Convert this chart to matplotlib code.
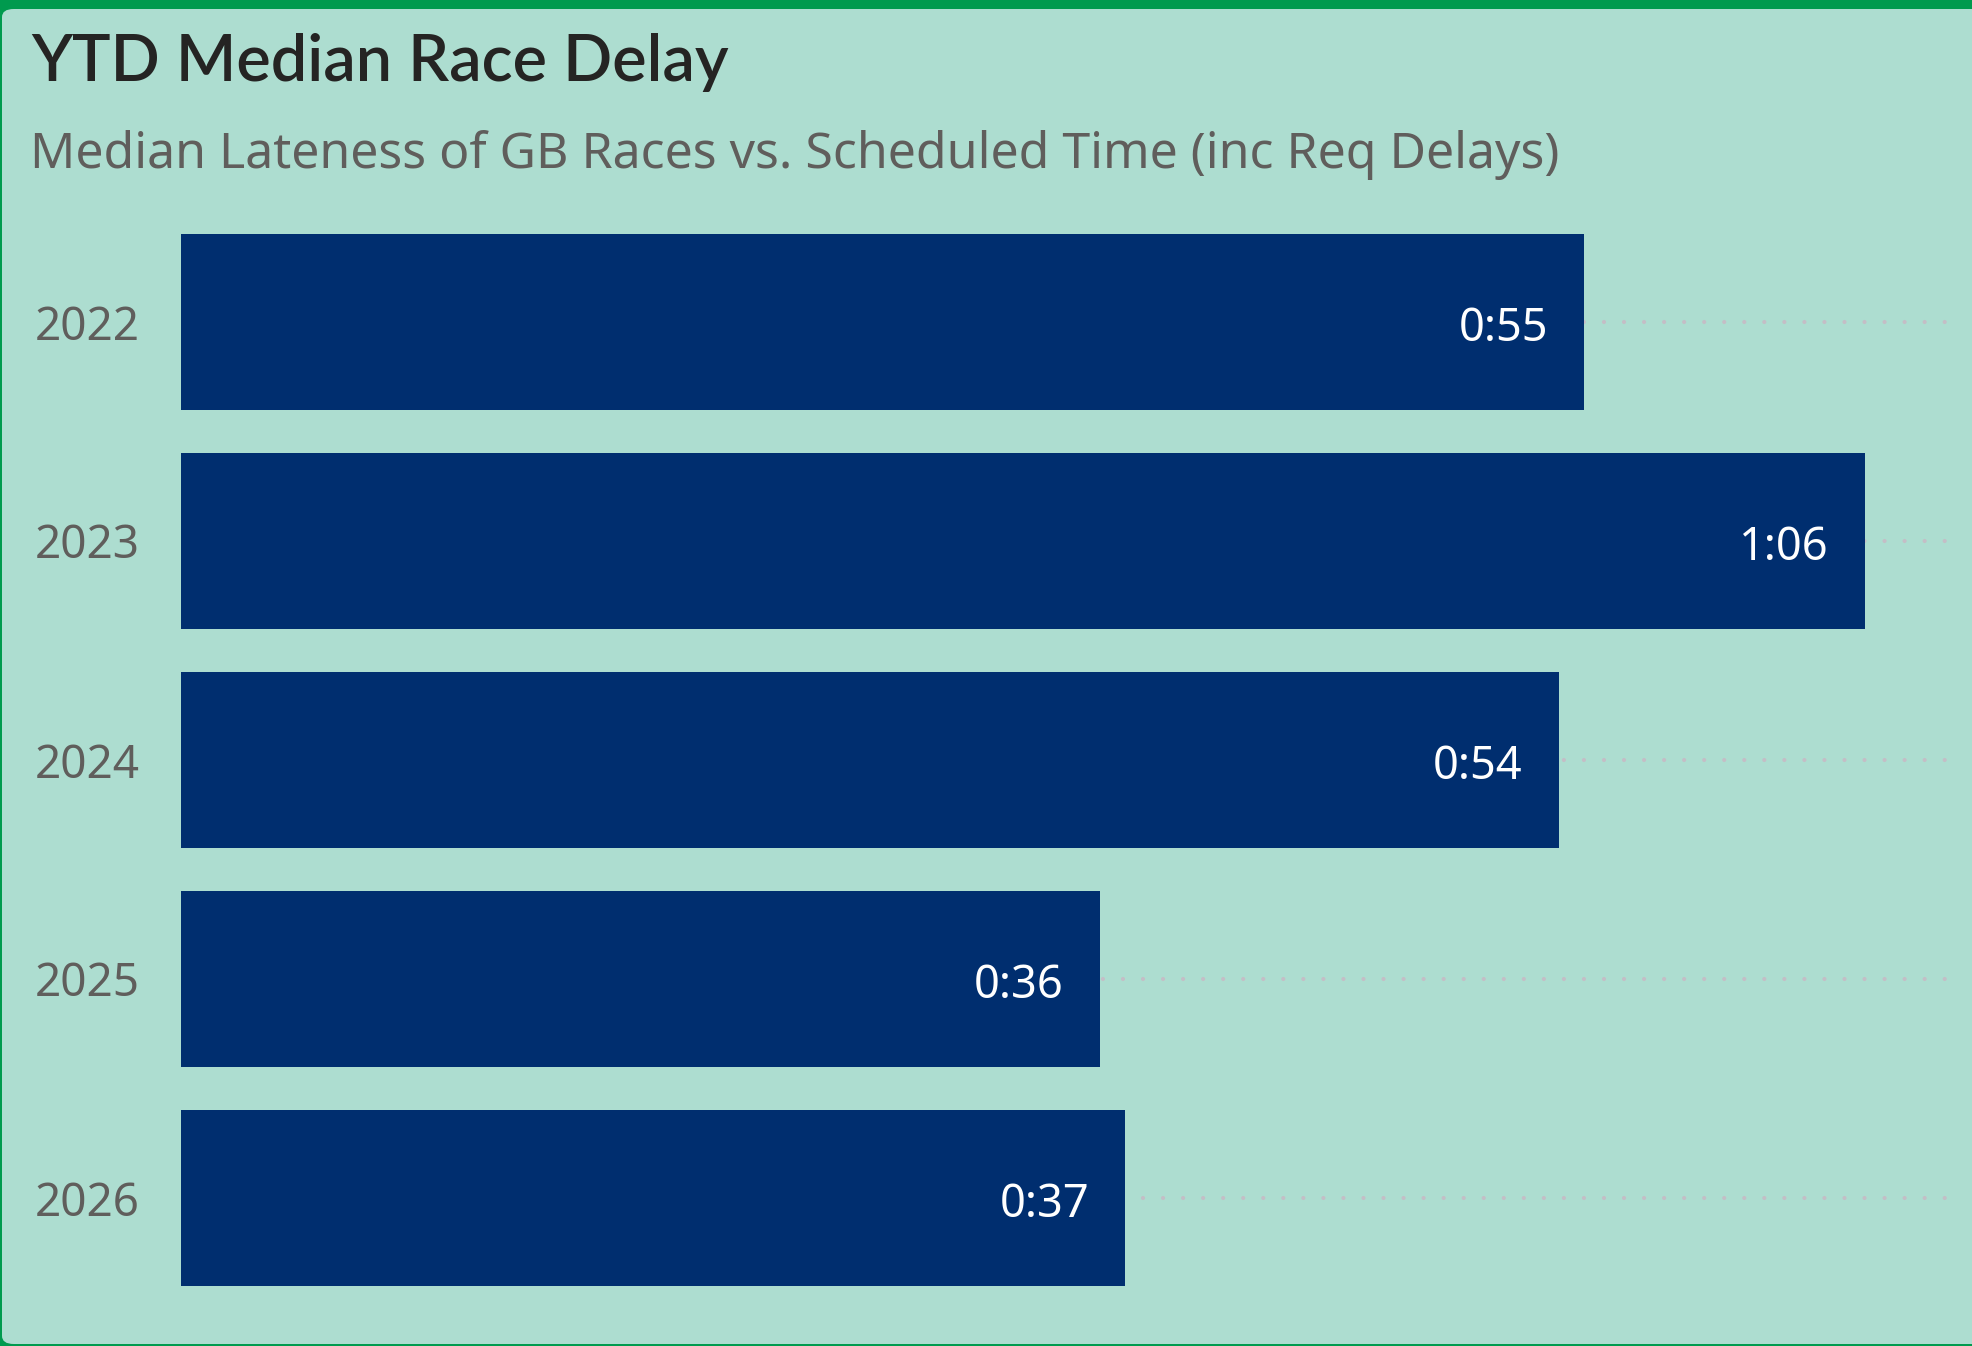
import matplotlib
matplotlib.use("Agg")
import matplotlib.pyplot as plt
from matplotlib.patches import FancyBboxPatch

# data ----
years = ["2022", "2023", "2024", "2025", "2026"]
delay_sec = [55, 66, 54, 36, 37]          # median lateness, seconds
delay_lbl = ["0:55", "1:06", "0:54", "0:36", "0:37"]

title = "YTD Median Race Delay"
subtitle = "Median Lateness of GB Races vs. Scheduled Time (inc Req Delays)"

# styling ----
BG = "#ADDDD0"
GREEN = "#009A4E"
BAR = "#002E6F"
TITLE_C = "#252423"
GREY = "#605E5C"
DOT = "#C4BEC6"

W, H = 1972, 1346
fig = plt.figure(figsize=(W / 100, H / 100), dpi=100)
fig.patch.set_facecolor(GREEN)

# card background (green frame shows on top, left and bottom)
card = FancyBboxPatch((2 / W, 2 / H), (W + 20) / W, (H - 9 - 2) / H,
                      boxstyle="round,pad=0,rounding_size=0.006",
                      transform=fig.transFigure, facecolor=BG,
                      edgecolor="none", zorder=-10)
fig.patches.append(card)

fig.text(31 / W, 1 - 81 / H, title, fontsize=46.5, color=TITLE_C,
         family="Lato", weight="semibold", va="baseline", ha="left")
fig.text(30 / W, 1 - 168 / H, subtitle, fontsize=36, color=GREY,
         family="Noto Sans", va="baseline", ha="left")

ax = fig.add_axes([181 / W, 1 - 1307.5 / H, 1765.6 / W, 1095 / H])
ax.set_facecolor("none")
ax.set_zorder(2)

ypos = list(range(len(years)))
ax.barh(ypos, delay_sec, height=0.8, color=BAR, zorder=2)

for y, v, lbl in zip(ypos, delay_sec, delay_lbl):
    ax.annotate(lbl, xy=(v, y), xytext=(-36 * 0.72, -1),
                textcoords="offset points", ha="right", va="center_baseline",
                fontsize=32.5, color="white", family="Noto Sans", zorder=3)

ax.set_xlim(0, 69.2)
ax.set_ylim(len(years) - 0.5, -0.5)
ax.set_yticks(ypos)
ax.set_yticklabels(years, fontsize=33, color=GREY, family="Noto Sans")
ax.tick_params(axis="y", length=0, pad=30)
ax.set_xticks([])
for s in ax.spines.values():
    s.set_visible(False)

ax.set_axisbelow(True)
ax.grid(axis="y", color=DOT, linewidth=3, linestyle=(0, (0.01, 4.8)),
        dash_capstyle="round")

fig.savefig("out.png", dpi=100, facecolor=fig.get_facecolor())
